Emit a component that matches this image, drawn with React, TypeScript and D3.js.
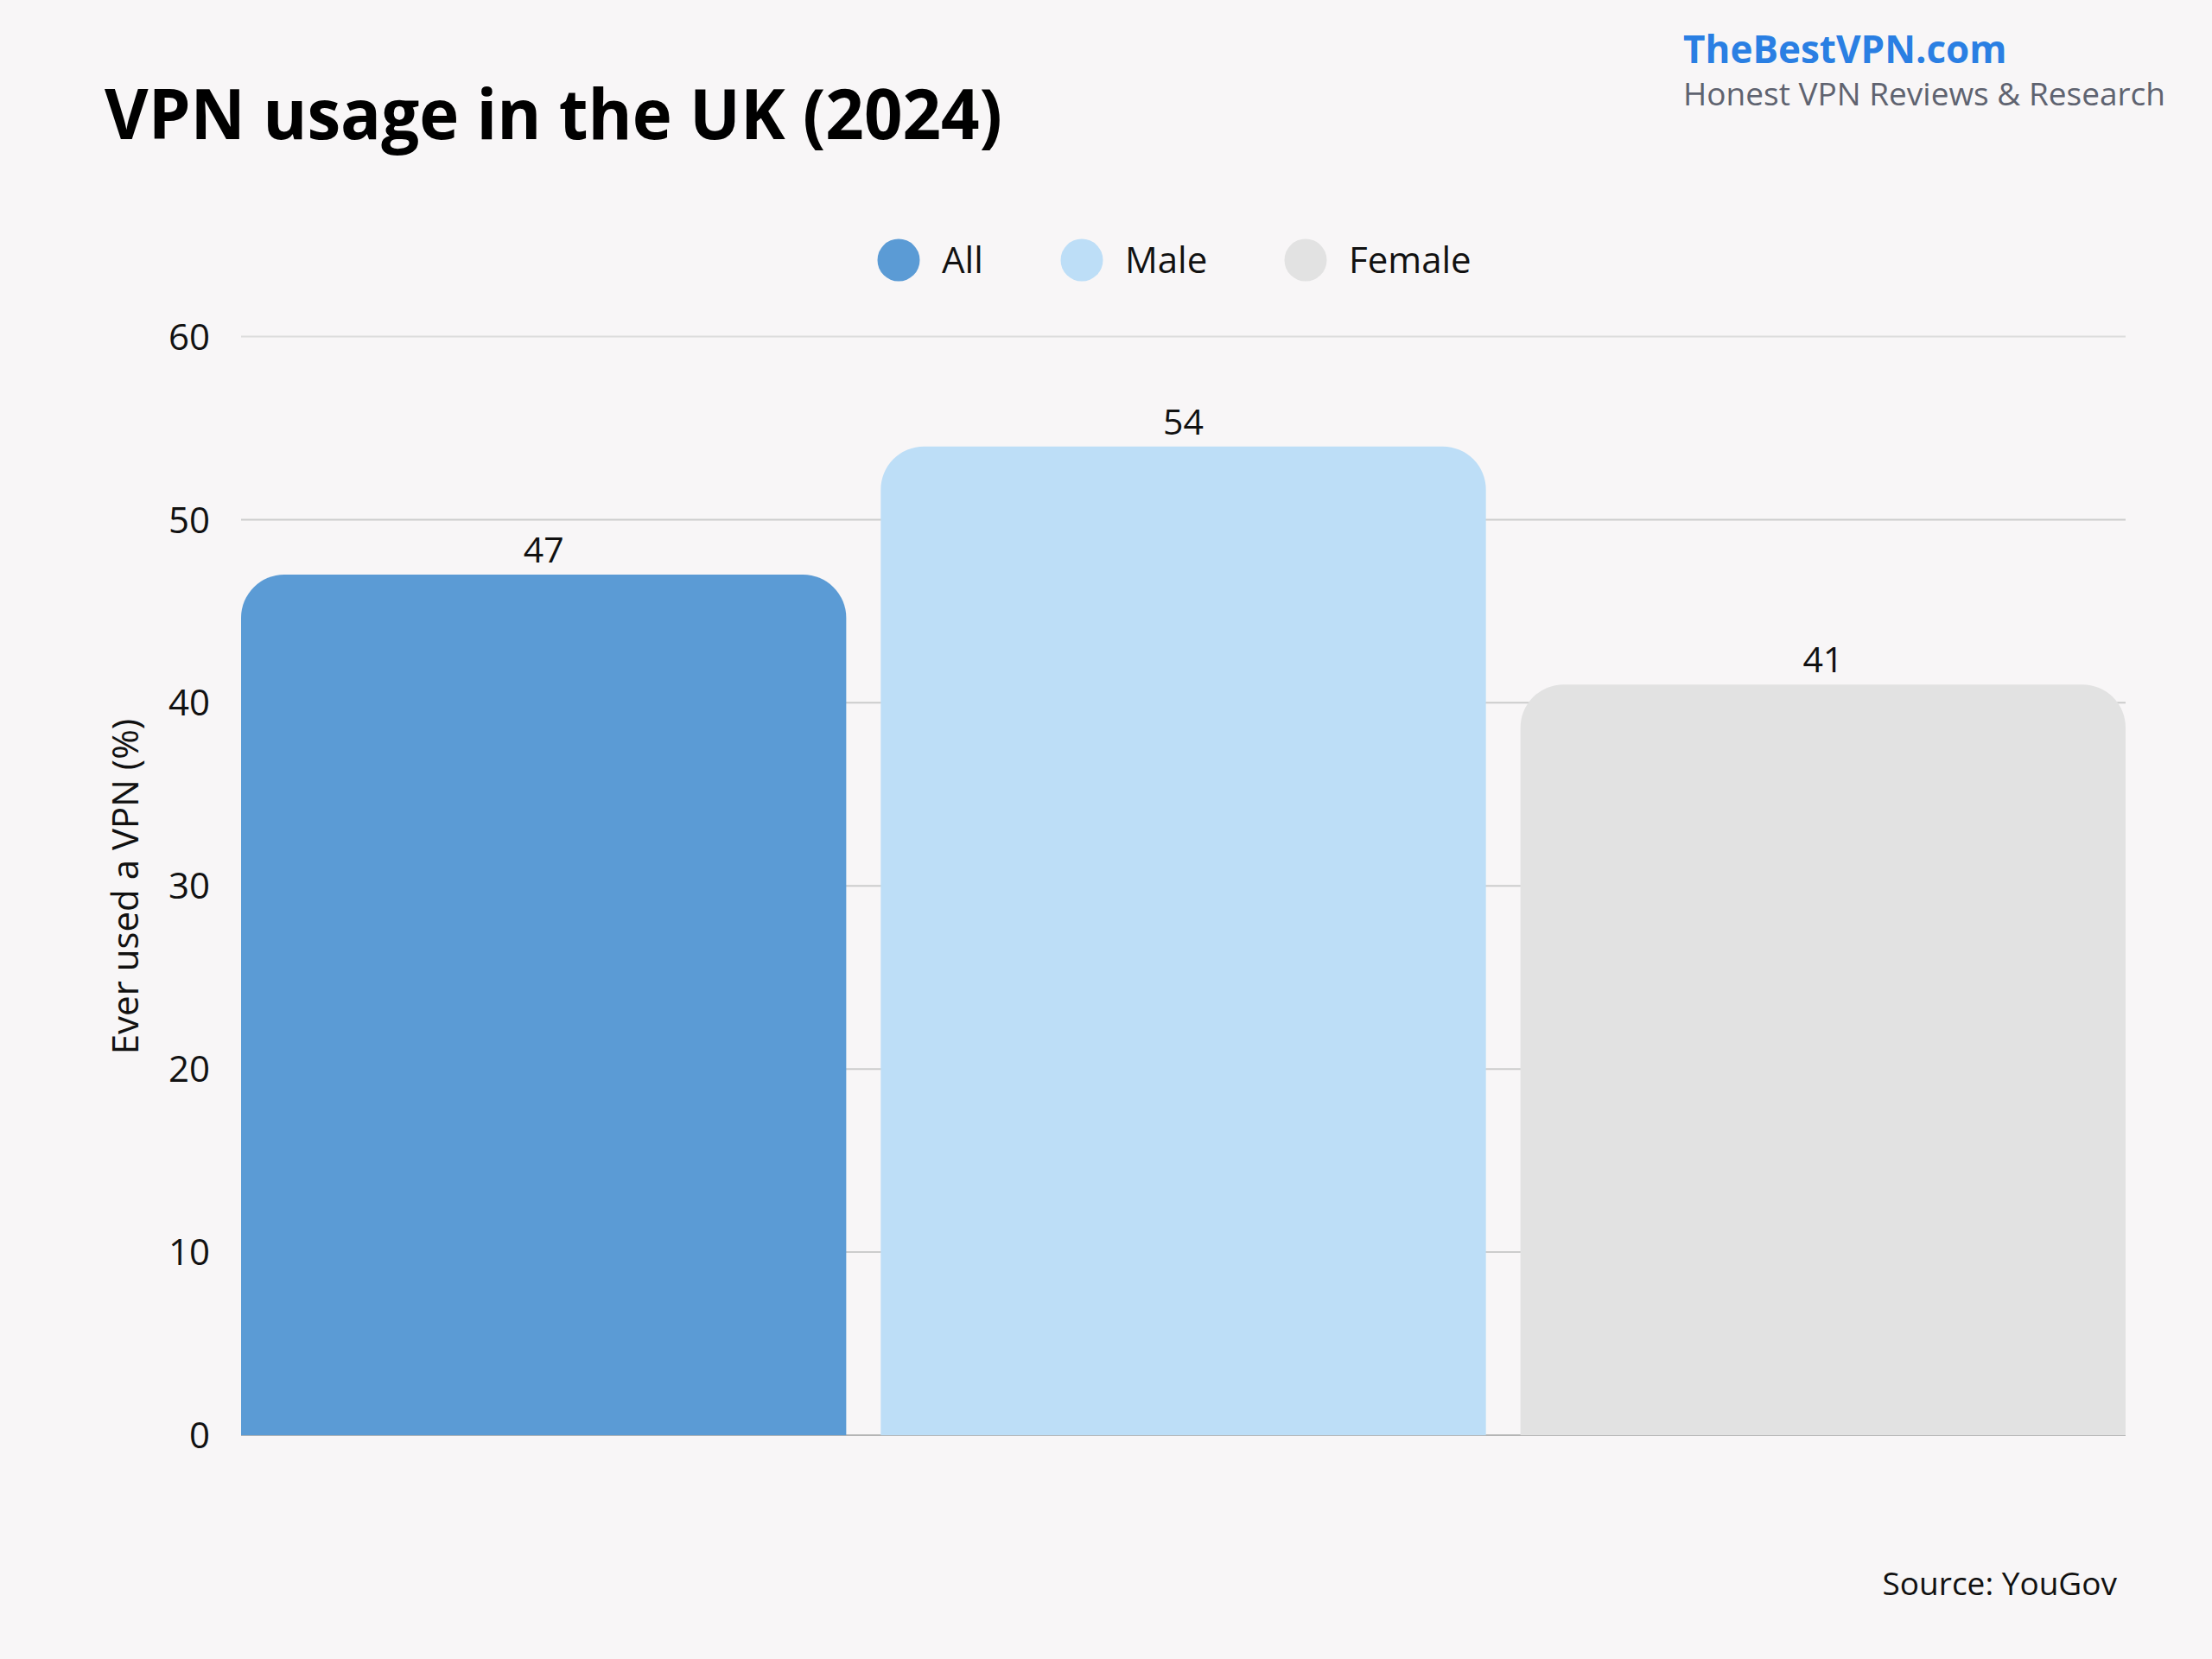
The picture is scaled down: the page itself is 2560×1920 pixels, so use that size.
import React from "react";
import * as d3 from "d3";

const categories = ["All", "Male", "Female"];
const values = [47, 54, 41];
const barColors = ["#5b9bd5", "#bddef7", "#e2e2e2"];
const yTicks = [0, 10, 20, 30, 40, 50, 60];

const W = 2560;
const H = 1920;
const FONT = "'Open Sans', 'Noto Sans', sans-serif";

// rounded top corners only
function topRoundedBar(x: number, y: number, w: number, h: number, r: number) {
  const p = d3.path();
  const rr = Math.min(r, w / 2, h);
  p.moveTo(x, y + h);
  p.lineTo(x, y + rr);
  p.arcTo(x, y, x + rr, y, rr);
  p.lineTo(x + w - rr, y);
  p.arcTo(x + w, y, x + w, y + rr, rr);
  p.lineTo(x + w, y + h);
  p.closePath();
  return p.toString();
}

const App: React.FC = () => {
  const margin = { left: 279, right: 100, top: 389.5, bottom: 259 };
  const x = d3
    .scaleBand<string>()
    .domain(categories)
    .range([margin.left, W - margin.right])
    .paddingInner(0.054)
    .paddingOuter(0);
  const y = d3.scaleLinear().domain([0, 60]).range([H - margin.bottom, margin.top]);

  const legendX = [1040, 1252, 1511];

  return (
    <svg
      width={W}
      height={H}
      viewBox={`0 0 ${W} ${H}`}
      style={{ position: "absolute", left: 0, top: 0, display: "block" }}
      fontFamily={FONT}
    >
      <rect width={W} height={H} fill="#f8f6f7" />

      {/* Title */}
      <text x={121} y={161} fontSize={80} fontWeight={700} fill="#000"
        textLength={1039} lengthAdjust="spacingAndGlyphs">
        VPN usage in the UK (2024)
      </text>

      {/* Brand */}
      <text x={1948} y={73} fontSize={44} fontWeight={700} fill="#2a7fe3">
        TheBestVPN.com
      </text>
      <text x={1948} y={122} fontSize={37} fill="#5f6370">
        Honest VPN Reviews &amp; Research
      </text>

      {/* Legend */}
      {categories.map((c, i) => (
        <g key={c}>
          <circle cx={legendX[i]} cy={301} r={24.5} fill={barColors[i]} />
          <text x={legendX[i] + 50} y={301} dy="0.36em" fontSize={42} fill="#111">
            {c}
          </text>
        </g>
      ))}

      {/* Grid */}
      {yTicks.map((t) => (
        <g key={t}>
          <line
            x1={margin.left}
            x2={W - margin.right}
            y1={y(t)}
            y2={y(t)}
            stroke={t === 0 ? "#b5b5b5" : t === 60 ? "#dcdcdc" : "#cccccc"}
            strokeWidth={2}
          />
          <text x={243} y={y(t)} dy="0.36em" textAnchor="end" fontSize={42} fill="#111">
            {t}
          </text>
        </g>
      ))}

      {/* Bars */}
      {categories.map((c, i) => {
        const bx = x(c) || 0;
        const by = y(values[i]);
        return (
          <g key={c}>
            <path
              d={topRoundedBar(bx, by, x.bandwidth(), y(0) - by, 50)}
              fill={barColors[i]}
            />
            <text
              x={bx + x.bandwidth() / 2}
              y={by - 14}
              textAnchor="middle"
              fontSize={41}
              fill="#111"
            >
              {values[i]}
            </text>
          </g>
        );
      })}

      {/* Y axis title */}
      <text
        transform={`translate(160,1026) rotate(-90)`}
        textAnchor="middle"
        fontSize={42}
        fill="#111"
      >
        Ever used a VPN (%)
      </text>

      {/* Source */}
      <text x={2450} y={1846} textAnchor="end" fontSize={37} fill="#111">
        Source: YouGov
      </text>
    </svg>
  );
};

export default App;
